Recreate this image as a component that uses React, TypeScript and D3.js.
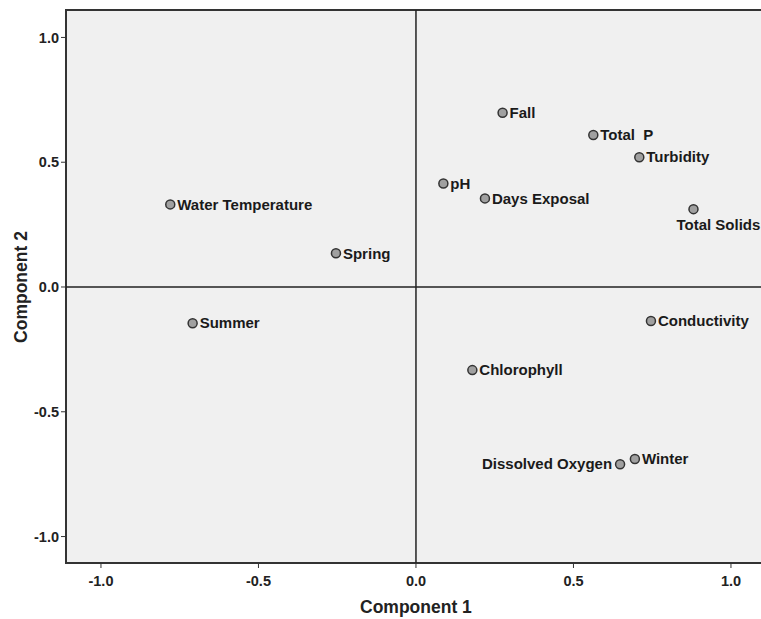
import React from 'react';
import * as d3 from 'd3';

// component loadings
const variables = [
  'Fall', 'Total  P', 'Turbidity', 'pH', 'Days Exposal', 'Total Solids',
  'Water Temperature', 'Spring', 'Summer', 'Conductivity', 'Chlorophyll',
  'Dissolved Oxygen', 'Winter',
];
const component1 = [0.275, 0.563, 0.709, 0.087, 0.219, 0.881, -0.78, -0.254, -0.709, 0.746, 0.179, 0.648, 0.695];
const component2 = [0.698, 0.609, 0.52, 0.415, 0.355, 0.312, 0.331, 0.135, -0.145, -0.136, -0.333, -0.71, -0.689];
const tickValues = [-1.0, -0.5, 0.0, 0.5, 1.0];

// where the label sits relative to its marker
const labelSide: Record<string, 'right' | 'left' | 'below'> = {
  'Total Solids': 'below',
  'Dissolved Oxygen': 'left',
};

const W = 761;
const H = 619;
const font = '"Liberation Sans", Arial, sans-serif';

export default function App() {
  const x = d3.scaleLinear().domain([-1.111, 1.2]).range([66, 66 + 2.311 * 315]);
  const y = d3.scaleLinear().domain([-1.106, 1.11]).range([563, 10]);
  const [x0, x1] = x.range();
  const [y0, y1] = y.range();

  const points = variables.map((name, i) => ({ name, c1: component1[i], c2: component2[i] }));

  return (
    <svg width={W} height={H} style={{ position: 'absolute', left: 0, top: 0 }} fontFamily={font}>
      <rect x={0} y={0} width={W} height={H} fill="#fff" />
      <rect x={x0} y={y1} width={x1 - x0} height={y0 - y1} fill="#f0f0f0" stroke="#333" strokeWidth={2} />

      {/* reference lines */}
      <line x1={x(0)} x2={x(0)} y1={y1} y2={y0} stroke="#222" strokeWidth={1.5} />
      <line x1={x0} x2={x1} y1={y(0)} y2={y(0)} stroke="#222" strokeWidth={1.5} />

      {/* x axis */}
      {tickValues.map(t => (
        <g key={'x' + t} transform={`translate(${x(t)},${y0})`}>
          <line y1={0} y2={5} stroke="#333" />
          <text y={23} textAnchor="middle" fontSize={14.5} fontWeight="bold" fill="#222">{t.toFixed(1)}</text>
        </g>
      ))}
      {/* y axis */}
      {tickValues.map(t => (
        <g key={'y' + t} transform={`translate(${x0},${y(t)})`}>
          <line x1={0} x2={-5} stroke="#333" />
          <text x={-7} dy="0.35em" textAnchor="end" fontSize={14.5} fontWeight="bold" fill="#222">{t.toFixed(1)}</text>
        </g>
      ))}

      <text x={x(0)} y={613} textAnchor="middle" fontSize={17.5} fontWeight="bold" fill="#222">Component 1</text>
      <text transform={`translate(27,${y(0)}) rotate(-90)`} textAnchor="middle" fontSize={17.5} fontWeight="bold" fill="#222">Component 2</text>

      {points.map(p => {
        const cx = x(p.c1);
        const cy = y(p.c2);
        const side = labelSide[p.name] || 'right';
        let lx = cx + 7;
        let ly = cy;
        let anchor = 'start';
        if (side === 'left') { lx = cx - 8; anchor = 'end'; }
        if (side === 'below') { lx = cx - 17; ly = cy + 16; }
        return (
          <g key={p.name}>
            <circle cx={cx} cy={cy} r={4.5} fill="#a0a0a0" stroke="#333" strokeWidth={1.5} />
            <text x={lx} y={ly} dy="0.35em" textAnchor={anchor} fontSize={15} fontWeight="bold" fill="#1a1a1a" style={{ whiteSpace: 'pre' }}>{p.name}</text>
          </g>
        );
      })}
    </svg>
  );
}
